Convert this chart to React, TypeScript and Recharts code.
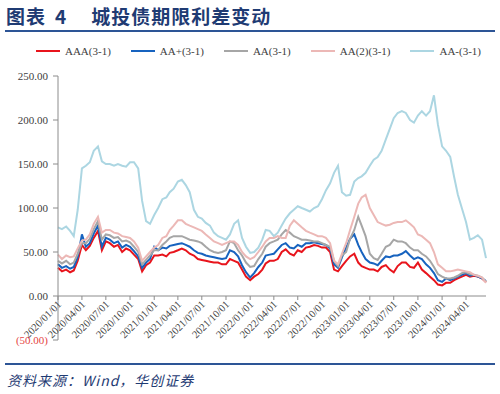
import { LineChart, Line, XAxis, YAxis, ReferenceLine, Legend } from 'recharts';

// semi-monthly observations, 3y-1y term spreads (bp)
const dates = [
  '2020/01/01', '2020/01/16', '2020/02/01', '2020/02/16', '2020/03/01', '2020/03/16',
  '2020/04/01', '2020/04/16', '2020/05/01', '2020/05/16', '2020/06/01', '2020/06/16',
  '2020/07/01', '2020/07/16', '2020/08/01', '2020/08/16', '2020/09/01', '2020/09/16',
  '2020/10/01', '2020/10/16', '2020/11/01', '2020/11/16', '2020/12/01', '2020/12/16',
  '2021/01/01', '2021/01/16', '2021/02/01', '2021/02/16', '2021/03/01', '2021/03/16',
  '2021/04/01', '2021/04/16', '2021/05/01', '2021/05/16', '2021/06/01', '2021/06/16',
  '2021/07/01', '2021/07/16', '2021/08/01', '2021/08/16', '2021/09/01', '2021/09/16',
  '2021/10/01', '2021/10/16', '2021/11/01', '2021/11/16', '2021/12/01', '2021/12/16',
  '2022/01/01', '2022/01/16', '2022/02/01', '2022/02/16', '2022/03/01', '2022/03/16',
  '2022/04/01', '2022/04/16', '2022/05/01', '2022/05/16', '2022/06/01', '2022/06/16',
  '2022/07/01', '2022/07/16', '2022/08/01', '2022/08/16', '2022/09/01', '2022/09/16',
  '2022/10/01', '2022/10/16', '2022/11/01', '2022/11/16', '2022/12/01', '2022/12/16',
  '2023/01/01', '2023/01/16', '2023/02/01', '2023/02/16', '2023/03/01', '2023/03/16',
  '2023/04/01', '2023/04/16', '2023/05/01', '2023/05/16', '2023/06/01', '2023/06/16',
  '2023/07/01', '2023/07/16', '2023/08/01', '2023/08/16', '2023/09/01', '2023/09/16',
  '2023/10/01', '2023/10/16', '2023/11/01', '2023/11/16', '2023/12/01', '2023/12/16',
  '2024/01/01', '2024/01/16', '2024/02/01', '2024/02/16', '2024/03/01', '2024/03/16',
  '2024/04/01', '2024/04/16', '2024/05/01', '2024/05/16', '2024/06/01', '2024/06/16',
];

const aaa = [
  32, 28, 30, 27, 29, 40, 58, 52, 57, 66, 74, 52,
  62, 60, 56, 58, 50, 54, 52, 47, 42, 28, 35, 38,
  46, 46, 47, 45, 49, 50, 52, 54, 52, 48, 46, 42,
  41, 40, 39, 38, 38, 36, 36, 42, 40, 38, 30, 22,
  18, 22, 25, 30, 37, 40, 40, 42, 50, 53, 48, 46,
  52, 50, 55, 56, 58, 57, 55, 55, 50, 30, 28, 34,
  40, 45, 48, 38, 34, 32, 30, 30, 28, 33, 35, 30,
  27, 34, 38, 38, 33, 32, 38, 30, 26, 22, 18, 13,
  12, 15, 15, 18, 20, 22, 24, 22, 23, 22, 20, 16,
];

const aaPlus = [
  36, 32, 34, 31, 33, 44, 70, 56, 60, 71, 80, 56,
  66, 64, 60, 62, 55, 58, 56, 51, 45, 32, 38, 42,
  56, 52, 55, 54, 57, 58, 59, 60, 58, 56, 52, 49,
  48, 46, 45, 44, 43, 42, 43, 52, 50, 45, 35, 27,
  21, 26, 33, 38, 46, 47, 48, 53, 58, 60, 55, 54,
  58, 56, 60, 60, 61, 60, 59, 58, 54, 36, 32, 44,
  55, 65, 70, 58, 50, 42, 38, 37, 35, 40, 45, 44,
  46, 46, 48, 51, 46, 42, 44, 42, 36, 32, 26, 18,
  16, 20, 18, 20, 22, 24, 26, 23, 24, 22, 20, 17,
];

const aa = [
  40, 37, 40, 36, 38, 48, 60, 60, 65, 76, 85, 64,
  70, 69, 66, 67, 62, 63, 61, 56, 50, 36, 41, 46,
  52, 52, 58, 62, 66, 68, 68, 68, 66, 64, 63, 62,
  60, 56, 52, 50, 49, 50, 52, 62, 60, 52, 46, 38,
  33, 34, 42, 48, 56, 60, 62, 64, 70, 75, 72, 68,
  66, 64, 64, 63, 62, 62, 60, 58, 56, 40, 34, 46,
  50, 65, 75, 90, 80, 68, 48, 43, 41, 48, 56, 58,
  64, 62, 62, 60, 55, 52, 52, 48, 45, 40, 33, 25,
  22, 20, 20, 21, 23, 26, 27, 25, 24, 23, 21, 16,
];

const aa2 = [
  47, 42, 46, 44, 45, 54, 63, 64, 70, 82, 90, 72,
  75, 75, 72, 71, 68, 67, 66, 62, 55, 40, 45, 50,
  55, 58, 66, 68, 75, 80, 86, 86, 82, 80, 78, 76,
  74, 70, 66, 62, 60, 58, 60, 62, 62, 58, 50, 45,
  42, 44, 50, 56, 62, 66, 66, 68, 66, 66, 80, 86,
  82, 78, 74, 72, 70, 68, 68, 66, 60, 40, 36, 48,
  60, 75, 90, 105, 112, 115, 100, 92, 84, 82, 80, 81,
  83, 84, 84, 86, 82, 78, 70, 68, 64, 60, 50, 36,
  32, 28, 28, 29, 30, 29, 28, 27, 24, 23, 21, 15,
];

const aaMinus = [
  78, 76, 79, 74, 68, 98, 145, 148, 152, 165, 170, 153,
  150, 150, 148, 150, 148, 147, 152, 152, 145, 108, 85, 82,
  92, 100, 110, 112, 118, 122, 130, 132, 126, 118, 98, 90,
  88, 83, 80, 72, 68, 66, 64, 70, 82, 86, 66, 56,
  49, 50, 55, 64, 75, 74, 68, 72, 80, 88, 94, 98,
  102, 100, 98, 96, 100, 102, 110, 120, 128, 140, 148, 118,
  114, 115, 130, 134, 136, 140, 148, 155, 158, 165, 178, 190,
  202, 208, 210, 208, 200, 197, 205, 210, 205, 210, 228, 195,
  170, 165, 158, 135, 115, 100, 84, 64, 66, 69, 64, 43,
];

const xTickLabels = [
  '2020/01/01', '2020/04/01', '2020/07/01', '2020/10/01',
  '2021/01/01', '2021/04/01', '2021/07/01', '2021/10/01',
  '2022/01/01', '2022/04/01', '2022/07/01', '2022/10/01',
  '2023/01/01', '2023/04/01', '2023/07/01', '2023/10/01',
  '2024/01/01', '2024/04/01',
];
const yTicks = [-50, 0, 50, 100, 150, 200, 250];

const toTime = (d: string) => Date.parse(d.replace(/\//g, '-') + 'T00:00:00Z');

const rows = dates.map((d, i) => ({
  t: toTime(d),
  aaa: aaa[i],
  aaPlus: aaPlus[i],
  aa: aa[i],
  aa2: aa2[i],
  aaMinus: aaMinus[i],
}));

const series = [
  { key: 'aaa', name: 'AAA(3-1)', color: '#e8141c' },
  { key: 'aaPlus', name: 'AA+(3-1)', color: '#1763bf' },
  { key: 'aa', name: 'AA(3-1)', color: '#a6a6a6' },
  { key: 'aa2', name: 'AA(2)(3-1)', color: '#ecb8b6' },
  { key: 'aaMinus', name: 'AA-(3-1)', color: '#acd6e2' },
];

const W = 500;
const H = 394;
const margin = { top: 76, right: 14, bottom: 24, left: 0 };
const X_AXIS_H = 30;
const Y_MIN = -50;
const Y_MAX = 250;
const plotH = H - margin.top - margin.bottom - X_AXIS_H;
// x axis sits on the zero line, not on the bottom of the plot
const zeroShift = (plotH * (0 - Y_MIN)) / (Y_MAX - Y_MIN);

const serif = '"Liberation Serif", "Times New Roman", serif';
const navy = '#1f3b73';

const fmtDate = (ms: number) => {
  const d = new Date(ms);
  const mm = String(d.getUTCMonth() + 1).padStart(2, '0');
  const dd = String(d.getUTCDate()).padStart(2, '0');
  return `${d.getUTCFullYear()}/${mm}/${dd}`;
};

function XTick({ x, y, payload }: any) {
  const y0 = y - zeroShift;
  const tx = x + 4;
  const ty = y0 + 9;
  return (
    <g>
      <line x1={x} y1={y0} x2={x} y2={y0 + 4} stroke="#8c8c8c" />
      <text
        x={tx}
        y={ty}
        textAnchor="end"
        transform={`rotate(-45 ${tx} ${ty})`}
        fontSize={10.5}
        fontFamily={serif}
        fill="#404040"
      >
        {fmtDate(payload.value)}
      </text>
    </g>
  );
}

function YTick({ x, y, payload }: any) {
  const v = payload.value as number;
  const neg = v < 0;
  return (
    <text
      x={x}
      y={y}
      dy={4}
      textAnchor="end"
      fontSize={11}
      fontFamily={serif}
      fill={neg ? '#e5453f' : '#404040'}
    >
      {neg ? `(${Math.abs(v).toFixed(2)})` : v.toFixed(2)}
    </text>
  );
}

function LegendRow() {
  return (
    <div
      style={{
        display: 'flex',
        justifyContent: 'center',
        alignItems: 'center',
        paddingLeft: 17,
        fontFamily: serif,
        fontSize: 11,
        color: '#404040',
      }}
    >
      {series.map((s) => (
        <div key={s.key} style={{ display: 'flex', alignItems: 'center', margin: '0 10px' }}>
          <span style={{ display: 'inline-block', width: 24, height: 2, background: s.color, marginRight: 5 }} />
          <span>{s.name}</span>
        </div>
      ))}
    </div>
  );
}

export default function App() {
  return (
    <div style={{ position: 'fixed', left: 0, top: 0, width: W, height: H, background: '#fff' }}>
      <div
        style={{
          position: 'absolute',
          left: 6,
          top: 5,
          fontFamily: '"Noto Sans CJK SC", sans-serif',
          fontWeight: 700,
          fontSize: 19,
          letterSpacing: 1,
          color: navy,
          lineHeight: '22px',
          whiteSpace: 'nowrap',
        }}
      >
        <span>图表</span>
        <span style={{ marginLeft: 9 }}>4</span>
        <span style={{ marginLeft: 24 }}>城投债期限利差变动</span>
      </div>
      <div style={{ position: 'absolute', left: 5, top: 30, width: 490, height: 2, background: '#2d5596' }} />

      <LineChart width={W} height={H} data={rows} margin={margin}>
        <Legend
          layout="horizontal"
          verticalAlign="middle"
          align="center"
          wrapperStyle={{ top: 45, left: 0, width: W }}
          content={() => <LegendRow />}
        />
        <XAxis
          dataKey="t"
          type="number"
          domain={['dataMin', 'dataMax']}
          ticks={xTickLabels.map(toTime)}
          interval={0}
          height={X_AXIS_H}
          axisLine={false}
          tickLine={false}
          tickSize={0}
          tickMargin={0}
          tick={<XTick />}
        />
        <YAxis
          width={58}
          domain={[Y_MIN, Y_MAX]}
          ticks={yTicks}
          interval={0}
          axisLine={{ stroke: '#8c8c8c' }}
          tickLine={{ stroke: '#8c8c8c' }}
          tickSize={5}
          tickMargin={5}
          tick={<YTick />}
        />
        <ReferenceLine y={0} stroke="#8c8c8c" />
        {series.map((s) => (
          <Line
            key={s.key}
            type="linear"
            dataKey={s.key}
            name={s.name}
            stroke={s.color}
            strokeWidth={2}
            dot={false}
            isAnimationActive={false}
          />
        ))}
      </LineChart>

      <div style={{ position: 'absolute', left: 5, top: 363, width: 490, height: 2, background: '#2d5596' }} />
      <div
        style={{
          position: 'absolute',
          left: 7,
          top: 370,
          fontFamily: '"Noto Sans CJK SC", sans-serif',
          fontStyle: 'italic',
          fontSize: 14,
          letterSpacing: 1,
          color: navy,
          lineHeight: '20px',
          whiteSpace: 'nowrap',
        }}
      >
        资料来源：Wind，华创证券
      </div>
    </div>
  );
}
